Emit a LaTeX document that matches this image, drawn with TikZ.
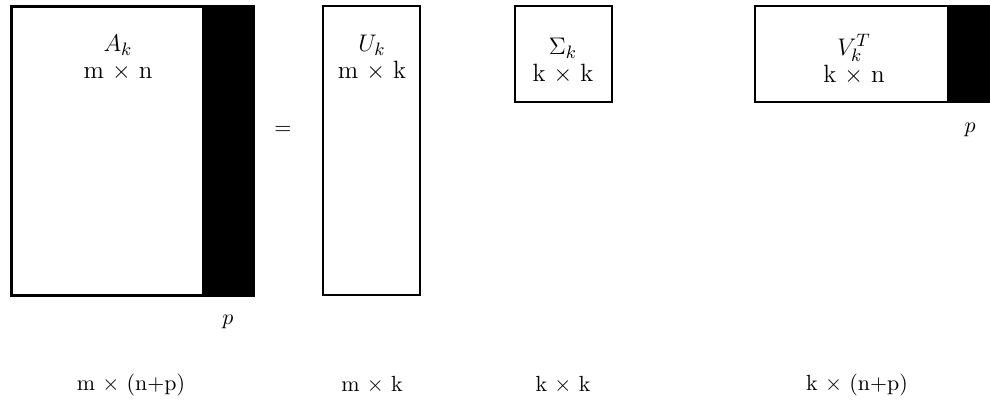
\documentclass[11pt,tikz,border=0pt]{standalone}
\usetikzlibrary{positioning}
\begin{document}
\begin{tikzpicture}[x=0.5pt,y=-0.5pt,
	mat/.style={line width=1pt},
	lbl/.style={align=center,inner sep=0pt,font=\fontsize{12.5}{13.5}\selectfont}]
	\useasboundingbox (0,0) rectangle (990,412);
	
	% A_k mit schwarzem Streifen p
	\draw[line width=1.5pt] (11,6) rectangle (253,295);
	\fill (202,5) rectangle (253,296);
	\node[lbl] (A) at (118,58) {$A_k$\\ m $\times$ n};
	\node (pA) at (228,322) {$p$};
	
	\node (eq) at (283,130) {$=$};
	
	% U_k
	\draw[mat] (323,6) rectangle (420,295);
	\node[lbl] (U) at (372,58) {$U_k$\\ m $\times$ k};
	
	% Sigma_k
	\draw[mat] (515,6) rectangle (612,102);
	\node[lbl] (S) at (563,61) {$\Sigma_k$\\ k $\times$ k};
	
	% V_k^T mit Streifen p
	\draw[mat] (755,6) rectangle (990,102);
	\fill (947,5) rectangle (990,103);
	\node[lbl] (V) at (854,59) {$V_k^T$\\ k $\times$ n};
	\node (pV) at (970,130) {$p$};
	
	% Dimensionen unten
	\node (dA) at (131,385) {m $\times$ (n+p)};
	\node (dU) at (372,385) {m $\times$ k};
	\node (dS) at (563,385) {k $\times$ k};
	\node (dV) at (857,385) {k $\times$ (n+p)};
\end{tikzpicture}
\end{document}
